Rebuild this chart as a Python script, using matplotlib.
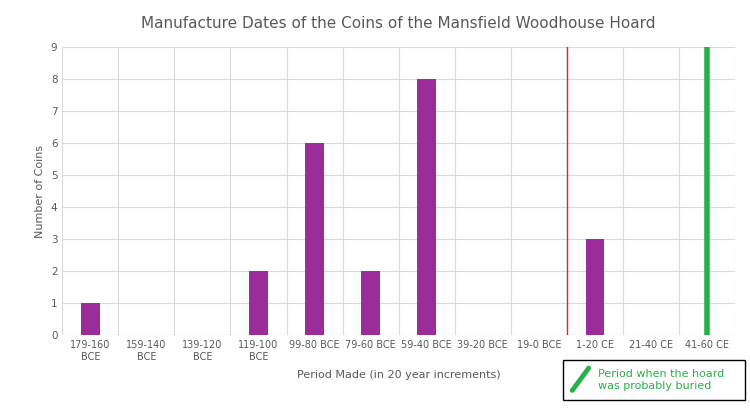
import matplotlib.pyplot as plt
from matplotlib.patches import Rectangle
from matplotlib.lines import Line2D

periods = ["179-160\nBCE", "159-140\nBCE", "139-120\nBCE", "119-100\nBCE", "99-80 BCE",
           "79-60 BCE", "59-40 BCE", "39-20 BCE", "19-0 BCE", "1-20 CE", "21-40 CE", "41-60 CE"]
coins = [1, 0, 0, 2, 6, 2, 8, 0, 0, 3, 0, 0]
era_boundary = 8.5   # between 19-0 BCE and 1-20 CE
burial_index = 11    # 41-60 CE
y_max = 9

fig = plt.figure(figsize=(7.5, 4.08), dpi=100)
ax = fig.add_axes([0.083, 0.178, 0.897, 0.706])
x = range(len(periods))
ax.bar(x, coins, width=0.33, color="#9B2D9B", zorder=3)
ax.axvline(era_boundary, color="#D9262E", linewidth=1, zorder=4)
ax.plot([burial_index, burial_index], [0, y_max], color="#27B04B", linewidth=4,
        solid_capstyle="round", zorder=4)

ax.set_xlim(-0.5, len(periods) - 0.5)
ax.set_ylim(0, y_max)
ax.set_yticks(range(0, y_max + 1))
ax.set_xticks(list(x))
ax.set_xticklabels(periods, fontsize=7, color="#595959")
ax.set_xticks([i + 0.5 for i in range(-1, len(periods))], minor=True)
ax.tick_params(axis="x", which="both", length=0)
ax.tick_params(axis="y", length=0, labelsize=7.5, labelcolor="#595959")
ax.grid(True, which="minor", axis="x", color="#D9D9D9", linewidth=0.8, zorder=0)
ax.grid(True, which="major", axis="y", color="#D9D9D9", linewidth=0.8, zorder=0)
for s in ax.spines.values():
    s.set_visible(False)
ax.axhline(0, color="#D9D9D9", linewidth=0.8, zorder=2)

ax.set_title("Manufacture Dates of the Coins of the Mansfield Woodhouse Hoard",
             fontsize=11, color="#595959", pad=14)
ax.set_xlabel("Period Made (in 20 year increments)", fontsize=8, color="#595959", labelpad=6)
ax.set_ylabel("Number of Coins", fontsize=8, color="#595959")

# legend box
fig.patches.append(Rectangle((0.751, 0.02), 0.242, 0.098, transform=fig.transFigure,
                             fill=False, edgecolor="black", linewidth=1))
fig.lines.append(Line2D([0.763, 0.785], [0.043, 0.098], transform=fig.transFigure,
                        color="#27B04B", linewidth=3.5, solid_capstyle="round"))
fig.text(0.797, 0.069, "Period when the hoard\nwas probably buried", fontsize=8,
         color="#27B04B", va="center", linespacing=1.2)

fig.savefig("out.png", dpi=100)
